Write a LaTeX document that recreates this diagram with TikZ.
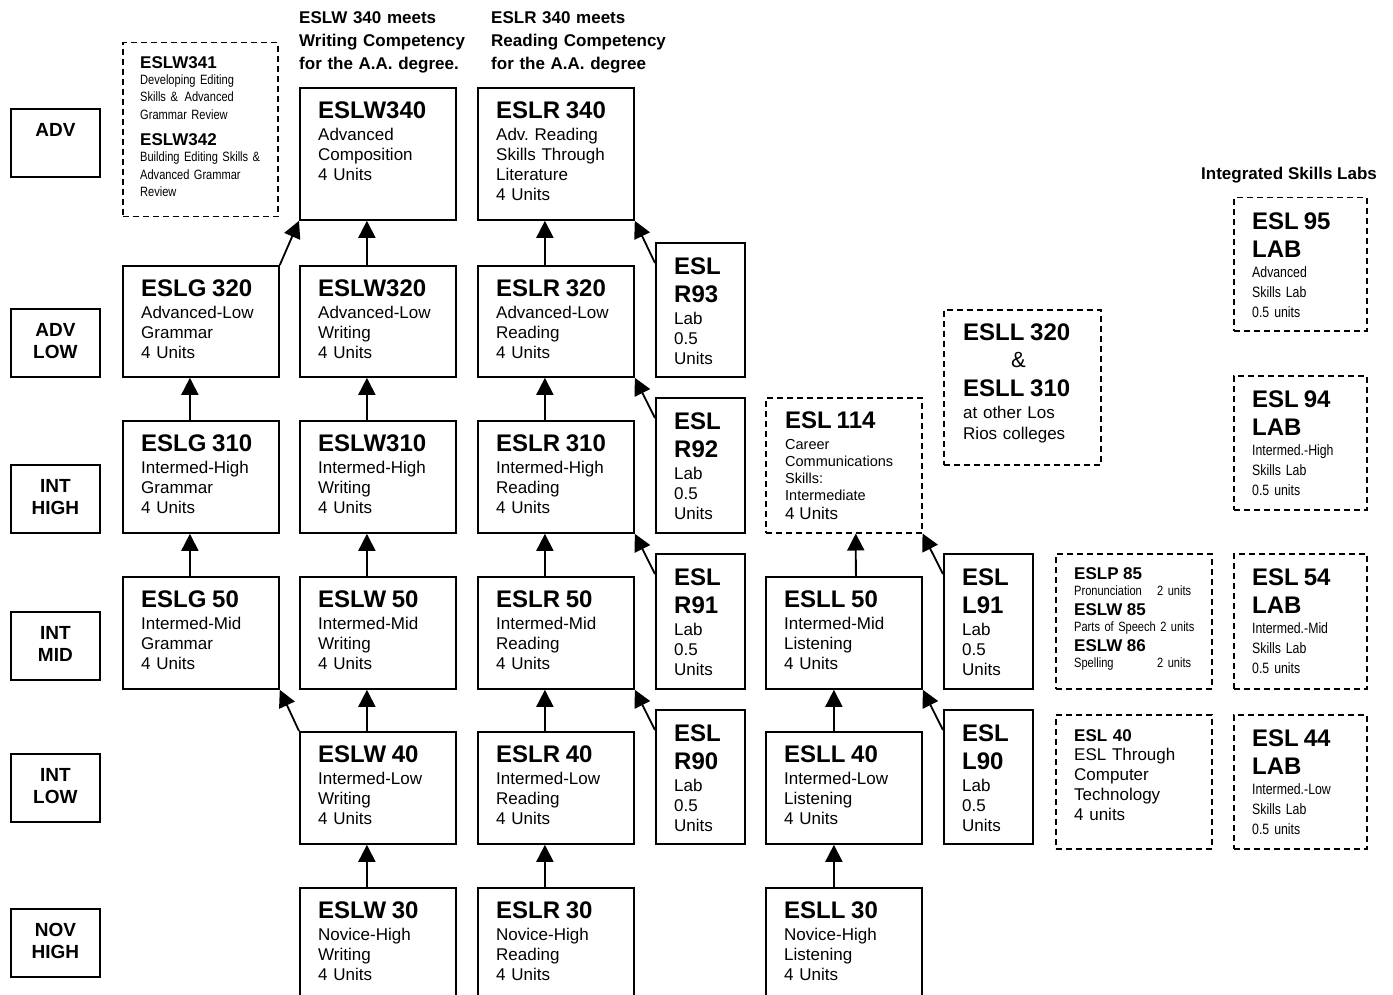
\documentclass[tikz,border=0pt]{standalone}
\usepackage{fontspec}
\setmainfont{Liberation Sans}
\newfontfamily\narrowfont[FakeStretch=0.82]{Liberation Sans}
\usetikzlibrary{positioning,arrows.meta}

\newcommand{\ttl}[1]{{\rmfamily\fontsize{24}{28}\selectfont\bfseries #1}}
\newcommand{\sttl}[1]{{\rmfamily\fontsize{17}{20}\selectfont\bfseries #1}}
\newcommand{\unitline}[2]{\leavevmode\hbox to \linewidth{#1\hfil\ #2}}

\tikzset{
	box/.style={draw, line width=1.8pt, anchor=north west, inner sep=0pt},
	course/.style={box, minimum width=156pt, minimum height=#1},
	course/.default=112pt,
	lab/.style={box, minimum width=89pt, minimum height=#1},
	lvl/.style={box, minimum width=89pt, minimum height=68pt},
	dbox/.style={box, line width=1.5pt, dash pattern=on 6pt off 4pt, minimum width=#1},
	ctext/.style={anchor=north west, inner sep=0pt, align=left, text width=#1,
		font=\fontsize{17}{20}\selectfont},
	ctext/.default=140pt,
	lvltext/.style={anchor=north, inner sep=0pt, align=center, text width=89pt,
		font=\fontsize{19}{22}\selectfont\bfseries},
	hdr/.style={anchor=north west, inner sep=0pt, align=left, text width=185pt,
		font=\fontsize{17}{23}\selectfont\bfseries},
	arr/.style={-{Triangle[length=17pt,width=17pt]}, line width=1.8pt},
}

\begin{document}
\begin{tikzpicture}[x=1pt, y={(0pt,-1pt)}]
		\useasboundingbox (0,0) rectangle (1393,995);
		% Level boxes
		\node[lvl] (ADV)  at (10,108) {};
		\node[lvl] (ADVL) at (10,308) {};
		\node[lvl] (IH)   at (10,464) {};
		\node[lvl] (IM)   at (10,611) {};
		\node[lvl] (IL)   at (10,753) {};
		\node[lvl] (NH)   at (10,908) {};
		\node[lvltext, below=15pt of ADV.north]  (ADVt)  {ADV};
		\node[lvltext, below=15pt of ADVL.north] (ADVLt) {ADV\\LOW};
		\node[lvltext, below=15pt of IH.north]   (IHt)   {INT\\HIGH};
		\node[lvltext, below=15pt of IM.north]   (IMt)   {INT\\MID};
		\node[lvltext, below=15pt of IL.north]   (ILt)   {INT\\LOW};
		\node[lvltext, below=15pt of NH.north]   (NHt)   {NOV\\HIGH};
		
		% Headers
		\node[hdr] (hdrW) at (299,11) {ESLW 340 meets\\Writing Competency\\for the A.A. degree.};
		\node[hdr] (hdrR) at (491,11) {ESLR 340 meets\\Reading Competency\\for the A.A. degree};
		\node[anchor=base, inner sep=0pt, font=\fontsize{17}{20}\selectfont\bfseries] (isl) at (1289,180) {Integrated Skills Labs};
		
		% Course boxes
		\node[course=132pt] (W340) at (299,87) {};
		\node[course=132pt] (R340) at (477,87) {};
		\node[course=111pt] (G320) at (122,265) {};
		\node[course=111pt] (W320) at (299,265) {};
		\node[course=111pt] (R320) at (477,265) {};
		\node[course] (G310) at (122,420) {};
		\node[course] (W310) at (299,420) {};
		\node[course] (R310) at (477,420) {};
		\node[course] (G50)  at (122,576) {};
		\node[course] (W50)  at (299,576) {};
		\node[course] (R50)  at (477,576) {};
		\node[course] (L50)  at (765,576) {};
		\node[course] (W40)  at (299,731) {};
		\node[course] (R40)  at (477,731) {};
		\node[course] (L40)  at (765,731) {};
		\node[course] (W30)  at (299,887) {};
		\node[course] (R30)  at (477,887) {};
		\node[course] (L30)  at (765,887) {};
		
		\node[ctext, below right=15pt and 19pt of W340.north west] (W340t) {\ttl{ESLW340}\\[1.5pt]Advanced\\Composition\\4 Units};
		\node[ctext, below right=15pt and 19pt of R340.north west] (R340t) {\ttl{ESLR 340}\\[1.5pt]Adv.\ Reading\\Skills Through\\Literature\\4 Units};
		\node[ctext, below right=15pt and 19pt of G320.north west] (G320t) {\ttl{ESLG 320}\\[1.5pt]Advanced-Low\\Grammar\\4 Units};
		\node[ctext, below right=15pt and 19pt of W320.north west] (W320t) {\ttl{ESLW320}\\[1.5pt]Advanced-Low\\Writing\\4 Units};
		\node[ctext, below right=15pt and 19pt of R320.north west] (R320t) {\ttl{ESLR 320}\\[1.5pt]Advanced-Low\\Reading\\4 Units};
		\node[ctext, below right=15pt and 19pt of G310.north west] (G310t) {\ttl{ESLG 310}\\[1.5pt]Intermed-High\\Grammar\\4 Units};
		\node[ctext, below right=15pt and 19pt of W310.north west] (W310t) {\ttl{ESLW310}\\[1.5pt]Intermed-High\\Writing\\4 Units};
		\node[ctext, below right=15pt and 19pt of R310.north west] (R310t) {\ttl{ESLR 310}\\[1.5pt]Intermed-High\\Reading\\4 Units};
		\node[ctext, below right=15pt and 19pt of G50.north west] (G50t) {\ttl{ESLG 50}\\[1.5pt]Intermed-Mid\\Grammar\\4 Units};
		\node[ctext, below right=15pt and 19pt of W50.north west] (W50t) {\ttl{ESLW 50}\\[1.5pt]Intermed-Mid\\Writing\\4 Units};
		\node[ctext, below right=15pt and 19pt of R50.north west] (R50t) {\ttl{ESLR 50}\\[1.5pt]Intermed-Mid\\Reading\\4 Units};
		\node[ctext, below right=15pt and 19pt of L50.north west] (L50t) {\ttl{ESLL 50}\\[1.5pt]Intermed-Mid\\Listening\\4 Units};
		\node[ctext, below right=15pt and 19pt of W40.north west] (W40t) {\ttl{ESLW 40}\\[1.5pt]Intermed-Low\\Writing\\4 Units};
		\node[ctext, below right=15pt and 19pt of R40.north west] (R40t) {\ttl{ESLR 40}\\[1.5pt]Intermed-Low\\Reading\\4 Units};
		\node[ctext, below right=15pt and 19pt of L40.north west] (L40t) {\ttl{ESLL 40}\\[1.5pt]Intermed-Low\\Listening\\4 Units};
		\node[ctext, below right=15pt and 19pt of W30.north west] (W30t) {\ttl{ESLW 30}\\[1.5pt]Novice-High\\Writing\\4 Units};
		\node[ctext, below right=15pt and 19pt of R30.north west] (R30t) {\ttl{ESLR 30}\\[1.5pt]Novice-High\\Reading\\4 Units};
		\node[ctext, below right=15pt and 19pt of L30.north west] (L30t) {\ttl{ESLL 30}\\[1.5pt]Novice-High\\Listening\\4 Units};
		
		% Lab boxes
		\node[lab=134pt] (R93) at (655,242) {};
		\node[lab=135pt] (R92) at (655,397) {};
		\node[lab=135pt] (R91) at (655,553) {};
		\node[lab=134pt] (R90) at (655,709) {};
		\node[lab=135pt] (L91) at (943,553) {};
		\node[lab=134pt] (L90) at (943,709) {};
		\foreach \n/\t in {R93/R93, R92/R92, R91/R91, R90/R90, L91/L91, L90/L90}
			\node[ctext=70pt, below right=16pt and 19pt of \n.north west] (\n t) {\ttl{ESL}\\[8pt]\ttl{\t}\\[1.5pt]Lab\\0.5\\Units};
		
		% Dashed boxes
		\node[dbox=155pt, minimum height=174pt] (W341) at (122,42) {};
		\node[ctext=135pt, below right=14pt and 18pt of W341.north west, font=\narrowfont\fontsize{13.5}{17.5}\selectfont] (W341t)
			{\sttl{ESLW341}\\[-1.5pt]Developing Editing\\Skills \&\ \,Advanced\\Grammar Review\\[9pt]\sttl{ESLW342}\\[-1.5pt]Building Editing Skills \&\\Advanced Grammar\\Review};
		\node[dbox=156pt, minimum height=135pt] (E114) at (765,397) {};
		\node[ctext=135pt, below right=15pt and 20pt of E114.north west, font=\fontsize{14.5}{17}\selectfont] (E114t)
			{\ttl{ESL 114}\\[3.5pt]Career\\Communications\\Skills:\\Intermediate\\[2pt]{\fontsize{17}{20}\selectfont 4 Units}};
		\node[dbox=157pt, minimum height=155pt] (ESLL) at (943,309) {};
		\node[ctext=135pt, below right=15pt and 20pt of ESLL.north west, font=\fontsize{17}{21}\selectfont] (ESLLt)
			{\ttl{ESLL 320}\\[6pt]\hspace*{48pt}{\fontsize{22}{26}\selectfont\&}\\[7.5pt]\ttl{ESLL 310}\\[1.5pt]at other Los\\Rios colleges};
		\node[dbox=156pt, minimum height=135pt] (P85) at (1055,553) {};
		\node[ctext=117pt, below right=14pt and 19pt of P85.north west, font=\narrowfont\fontsize{13.5}{16}\selectfont] (P85t)
			{\sttl{ESLP 85}\\\unitline{Pronunciation}{2 units}\\[4.3pt]\sttl{ESLW 85}\\\unitline{Parts of Speech}{2 units}\\[4.3pt]\sttl{ESLW 86}\\\unitline{Spelling}{2 units}};
		\node[dbox=156pt, minimum height=134pt] (E40) at (1055,714) {};
		\node[ctext=135pt, below right=15pt and 19pt of E40.north west] (E40t)
			{\sttl{ESL 40}\\[-1pt]ESL Through\\Computer\\Technology\\4 units};
		
		% Integrated skills labs
		\node[dbox=133pt, minimum height=133pt] (L95) at (1233,197) {};
		\node[dbox=133pt, minimum height=134pt] (L94) at (1233,375) {};
		\node[dbox=133pt, minimum height=135pt] (L54) at (1233,553) {};
		\node[dbox=133pt, minimum height=134pt] (L44) at (1233,714) {};
		\foreach \n/\num/\lvl in {L95/95/Advanced, L94/94/Intermed.-High, L54/54/Intermed.-Mid, L44/44/Intermed.-Low}
			\node[ctext=110pt, below right=16pt and 19pt of \n.north west, font=\narrowfont\fontsize{15}{20}\selectfont] (\n t)
				{\ttl{ESL \num}\\[8pt]\ttl{LAB}\\\lvl\\Skills Lab\\0.5 units};
		
		%Arrows
		\path[arr]
		([xshift=-11pt]G50.north)  edge ([xshift=-11pt]G310.south)
		([xshift=-11pt]G310.north) edge ([xshift=-11pt]G320.south)
		([xshift=-11pt]W30.north)  edge ([xshift=-11pt]W40.south)
		([xshift=-11pt]W40.north)  edge ([xshift=-11pt]W50.south)
		([xshift=-11pt]W50.north)  edge ([xshift=-11pt]W310.south)
		([xshift=-11pt]W310.north) edge ([xshift=-11pt]W320.south)
		([xshift=-11pt]W320.north) edge ([xshift=-11pt]W340.south)
		([xshift=-11pt]R30.north)  edge ([xshift=-11pt]R40.south)
		([xshift=-11pt]R40.north)  edge ([xshift=-11pt]R50.south)
		([xshift=-11pt]R50.north)  edge ([xshift=-11pt]R310.south)
		([xshift=-11pt]R310.north) edge ([xshift=-11pt]R320.south)
		([xshift=-11pt]R320.north) edge ([xshift=-11pt]R340.south)
		([xshift=-10pt]L30.north)  edge ([xshift=-10pt]L40.south)
		([xshift=-10pt]L40.north)  edge ([xshift=-10pt]L50.south)
		([xshift=12pt]L50.north)   edge ([xshift=12pt]E114.south)
		(G320.north east) edge (W340.south west)
		(W40.north west)  edge (G50.south east)
		([yshift=-21pt]R93.north west) edge (R340.south east)
		([yshift=-21pt]R92.north west) edge (R320.south east)
		([yshift=-21pt]R91.north west) edge (R310.south east)
		([yshift=-21pt]R90.north west) edge (R50.south east)
		([yshift=-21pt]L91.north west) edge (E114.south east)
		([yshift=-21pt]L90.north west) edge (L50.south east)
		;
\end{tikzpicture}
\end{document}
